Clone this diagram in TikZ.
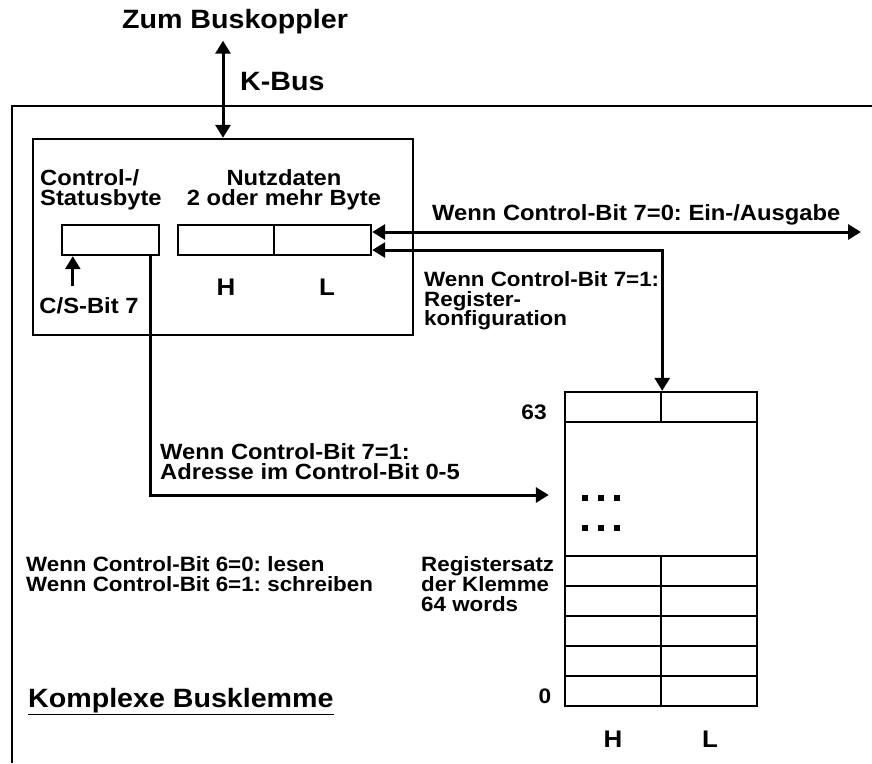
\documentclass[tikz,border=0pt]{standalone}
\usepackage{fontspec}
\setmainfont{Liberation Sans}[FakeStretch=1.08]
\usetikzlibrary{arrows.meta, positioning, calc}
\frenchspacing

\begin{document}
\begin{tikzpicture}[x=1pt, y=-1pt,
    box/.style={draw, line width=2.4pt, inner sep=0pt},
    cell/.style={box, minimum width=96pt, minimum height=30pt},
    title/.style={font=\fontsize{26.5}{26.5}\selectfont\bfseries, inner sep=0pt},
    lbl/.style={font=\fontsize{22}{20.5}\selectfont\bfseries, align=left, inner sep=0pt},
    slbl/.style={font=\fontsize{20.7}{19.8}\selectfont\bfseries, align=left, inner sep=0pt},
    hl/.style={font=\fontsize{24}{24}\selectfont\bfseries, inner sep=0pt, anchor=base},
    arrow/.style={-{Triangle[width=15pt,length=13pt]}, line width=3pt},
    dblarrow/.style={{Triangle[width=15pt,length=13pt]}-{Triangle[width=15pt,length=13pt]}, line width=3pt},
]
\useasboundingbox (0,0) rectangle (872,763);

% Rahmen der Busklemme (nur links und oben)
\draw[line width=2.6pt] (12,763) -- (12,106) -- (872,106);

% K-Bus
\node[title, anchor=base] (zum) at (235,28) {Zum Buskoppler};
\node[box, minimum width=380pt, minimum height=196pt] (modul) at (223,237) {};
\draw[dblarrow, shorten <=7pt] (zum.south -| modul.north) -- (modul.north);
\node[title, anchor=base west] (kbus) at (240,90) {K-Bus};

% Control-/Statusbyte und Nutzdaten
\node[lbl, anchor=north west] (csname) at (40,169) {Control-/\\Statusbyte};
\node[lbl, align=center, anchor=north] (nutz) at (284,169) {Nutzdaten\\2 oder mehr Byte};
\node[cell, minimum width=97pt] (csbyte) at (110.5,240) {};
\node[cell] (hbyte) at (226,240) {};
\node[cell, minimum width=97pt] (lbyte) at (322.5,240) {};
\node[hl] (hlbl) at (226,295) {H};
\node[hl] (llbl) at (327,295) {L};

% C/S-Bit 7
\node[lbl, anchor=base] (csbit) at (89,313) {C/S-Bit 7};
\coordinate (csin) at ([xshift=12pt]csbyte.south west);
\draw[arrow] (csin) ++(0,30) -- (csin);

% Ein-/Ausgabe
\coordinate (aus) at (861,232);
\draw[dblarrow] ([yshift=8pt]lbyte.east) -- (aus);
\node[lbl, anchor=base west] (auslbl) at (432,220) {Wenn Control-Bit 7=0: Ein-/Ausgabe};

% Registersatz
\node[cell] (r63h) at (613,407) {};
\node[cell] (r63l) at (709,407) {};
\node[box, minimum width=192pt, minimum height=134pt] (regmid) at (661,489) {};
\foreach \i in {0,...,4} {
    \node[cell] (rh\i) at (613,691-30*\i) {};
    \node[cell] (rl\i) at (709,691-30*\i) {};
}
\foreach \x in {585,601,617}
    \foreach \y in {498,528}
        \fill (\x-2.8,\y-2.8) rectangle ++(5.6,5.6);
\node[font=\fontsize{21}{21}\selectfont\bfseries, inner sep=0pt, anchor=base] (n63) at (534,419) {63};
\node[font=\fontsize{21}{21}\selectfont\bfseries, inner sep=0pt, anchor=base] (n0) at (545,703) {0};
\node[hl] (rhlbl) at (613,747) {H};
\node[hl] (rllbl) at (710,747) {L};
\node[slbl, anchor=north west] (regsatz) at (421,556.5) {Registersatz\\der Klemme\\64 words};

% Registerkonfiguration
\draw[dblarrow] ([yshift=-10pt]lbyte.east) -| (r63h.north east);
\node[slbl, anchor=north west] (reglbl) at (424,271) {Wenn Control-Bit 7=1:\\Register-\\konfiguration};

% Adresse
\draw[arrow] ([xshift=-10pt]csbyte.south east) |- ([xshift=-15pt,yshift=-6pt]regmid.west);
\node[lbl, anchor=north west] (adrlbl) at (160,443) {Wenn Control-Bit 7=1:\\Adresse im Control-Bit 0-5};

% Lesen/Schreiben
\node[slbl, anchor=north west] (rwlbl) at (26,556.5) {Wenn Control-Bit 6=0: lesen\\Wenn Control-Bit 6=1: schreiben};

\node[title, anchor=base west] (komplex) at (28,707) {\underline{Komplexe Busklemme}};
\end{tikzpicture}
\end{document}
